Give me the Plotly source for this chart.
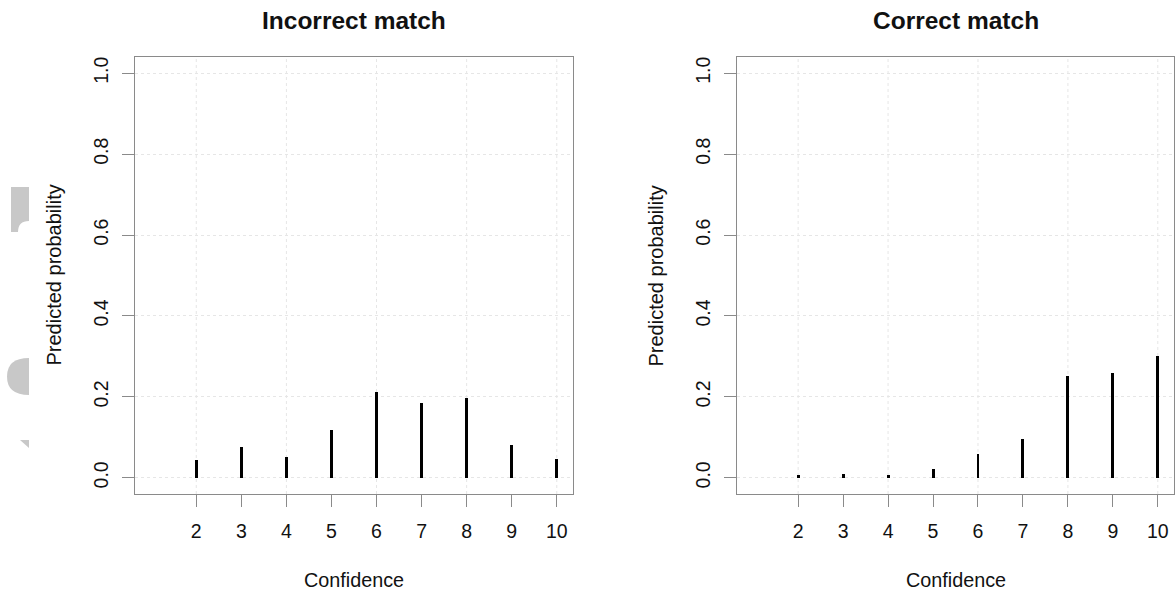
import plotly.graph_objects as go

confidence = [2, 3, 4, 5, 6, 7, 8, 9, 10]
incorrect_prob = [0.045, 0.075, 0.052, 0.117, 0.213, 0.184, 0.197, 0.080, 0.047]
correct_prob = [0.006, 0.010, 0.008, 0.023, 0.058, 0.096, 0.251, 0.259, 0.300]
panel_titles = ["Incorrect match", "Correct match"]
x_label = "Confidence"
y_label = "Predicted probability"
y_ticks = [0.0, 0.2, 0.4, 0.6, 0.8, 1.0]
y_ticktext = ["0.0", "0.2", "0.4", "0.6", "0.8", "1.0"]
x_grid = [2, 4, 6, 8, 10]

W, H = 1176, 596
FONT = "Liberation Sans, Arial, Helvetica, sans-serif"
FRAME = "#8a8a8a"
GRID = "#e6e6e6"

fig = go.Figure()

panels = [
    dict(xd=[135 / W, 573 / W], xa="x", ya="y", vals=incorrect_prob),
    dict(xd=[737 / W, 1174 / W], xa="x2", ya="y2", vals=correct_prob),
]
ydom = [1 - 494 / H, 1 - 57 / H]

for i, p in enumerate(panels):
    fig.add_trace(go.Bar(
        x=confidence, y=p["vals"], width=0.066,
        marker=dict(color="black", line=dict(width=0)),
        xaxis=p["xa"], yaxis=p["ya"], showlegend=False,
    ))
    sfx = "" if i == 0 else "2"
    fig.update_layout(**{
        "xaxis" + sfx: dict(
            domain=p["xd"], range=[0.64, 10.36], anchor=p["ya"],
            tickvals=confidence, ticks="outside", ticklen=12, tickwidth=1,
            tickcolor=FRAME, showline=True, linecolor=FRAME, linewidth=1,
            mirror=True, showgrid=False, zeroline=False, automargin=False,
            tickfont=dict(size=19.5, color="#111", family=FONT),
            ticklabelstandoff=8,
        ),
        "yaxis" + sfx: dict(
            domain=ydom, range=[-0.04, 1.04], anchor=p["xa"],
            tickvals=y_ticks, ticktext=y_ticktext, tickangle=-90,
            ticks="outside", ticklen=12, tickwidth=1, tickcolor=FRAME,
            showline=True, linecolor=FRAME, linewidth=1, mirror=True,
            showgrid=True, gridcolor=GRID, griddash="dot", gridwidth=1,
            zeroline=False, automargin=False,
            tickfont=dict(size=19.5, color="#111", family=FONT),
            ticklabelstandoff=6,
        ),
    })
    for gx in x_grid:
        fig.add_shape(type="line", xref=p["xa"], yref=p["ya"] + " domain",
                      x0=gx, x1=gx, y0=0, y1=1, layer="below",
                      line=dict(color=GRID, width=1, dash="dot"))
    cx = (p["xd"][0] + p["xd"][1]) / 2
    fig.add_annotation(text="<b>" + panel_titles[i] + "</b>", xref="paper", yref="paper",
                       x=cx, y=1 - 21 / H, showarrow=False,
                       font=dict(size=24.5, color="#111", family=FONT),
                       xanchor="center", yanchor="middle")
    fig.add_annotation(text=x_label, xref="paper", yref="paper",
                       x=cx, y=1 - 580 / H, showarrow=False,
                       font=dict(size=19.8, color="#111", family=FONT),
                       xanchor="center", yanchor="middle")
    fig.add_annotation(text=y_label, xref="paper", yref="paper",
                       x=p["xd"][0] - 82 / W, y=(ydom[0] + ydom[1]) / 2,
                       textangle=-90, showarrow=False,
                       font=dict(size=20, color="#111", family=FONT),
                       xanchor="center", yanchor="middle")

# light gray fragments at the left edge of the original image
fig.add_shape(type="path", xref="paper", yref="paper",
              path=f"M {11/W} {1-187/H} L {29/W} {1-187/H} L {29/W} {1-221/H} "
                   f"Q {18/W} {1-221/H} {18/W} {1-232/H} L {11/W} {1-232/H} Z",
              fillcolor="#c8c8c8", line=dict(width=0), layer="below")
fig.add_shape(type="path", xref="paper", yref="paper",
              path=f"M {29/W} {1-358/H} Q {7/W} {1-358/H} {7/W} {1-376.5/H} "
                   f"Q {7/W} {1-395/H} {29/W} {1-395/H} Z",
              fillcolor="#c8c8c8", line=dict(width=0), layer="below")
fig.add_shape(type="path", xref="paper", yref="paper",
              path=f"M {20/W} {1-440/H} L {29/W} {1-440/H} L {29/W} {1-448/H} Z",
              fillcolor="#c8c8c8", line=dict(width=0), layer="below")

fig.update_layout(
    width=W, height=H,
    margin=dict(l=0, r=0, t=0, b=0),
    paper_bgcolor="white", plot_bgcolor="white",
    bargap=0, showlegend=False,
    font=dict(family=FONT, color="#111"),
)

fig.write_html(
    "out.html",
    config={"displayModeBar": False, "staticPlot": True},
    post_script="document.body.style.margin='0';document.body.style.padding='0';"
                "document.body.style.overflow='hidden';",
)
